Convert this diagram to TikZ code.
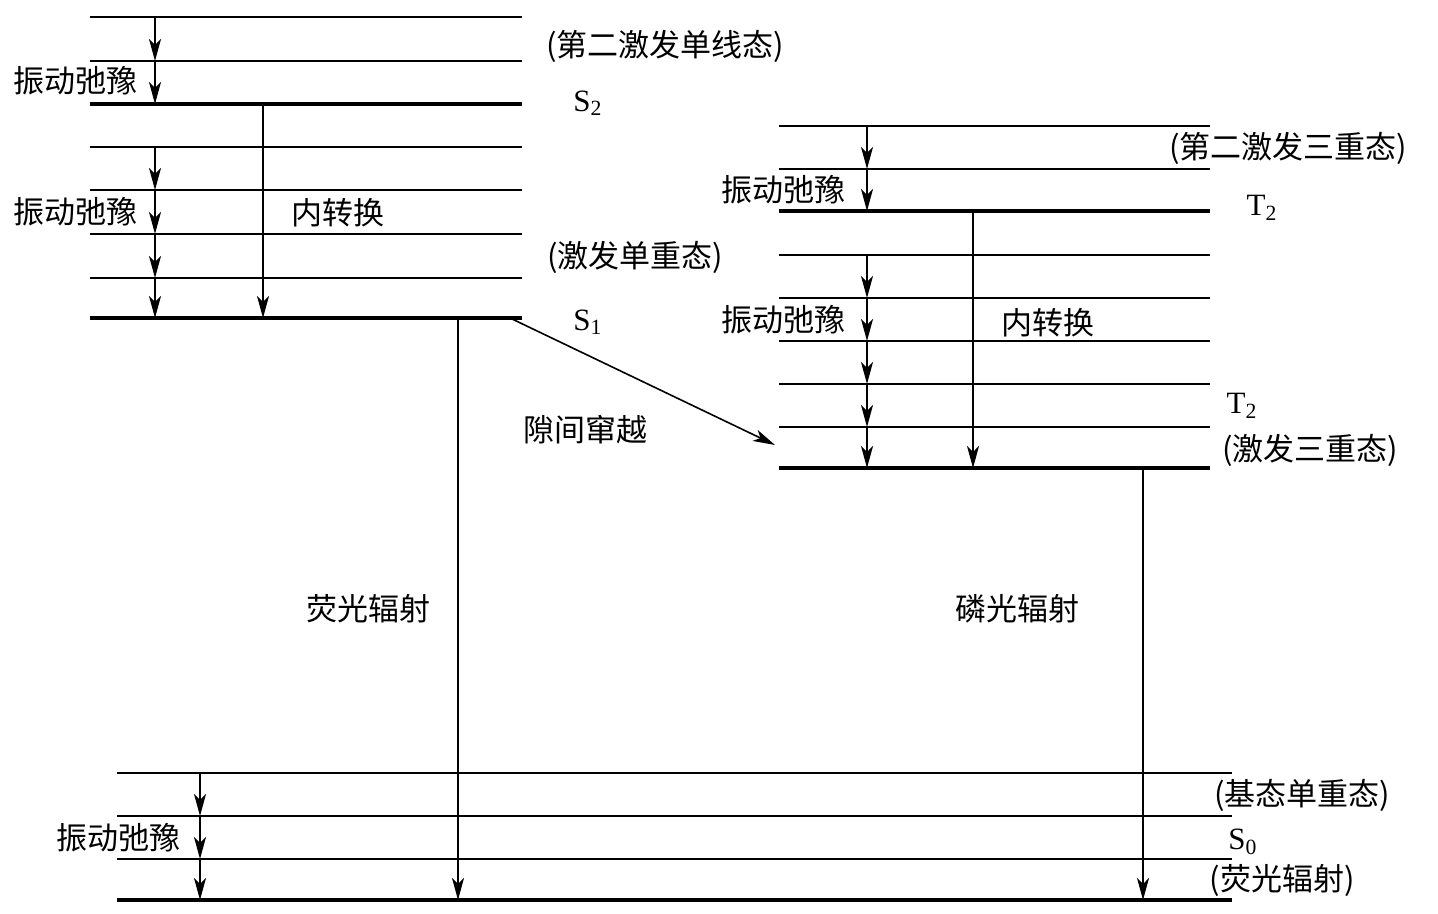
\documentclass[tikz,border=0pt]{standalone}
\usepackage{fontspec}
\setmainfont{Liberation Serif}
\newfontfamily\cjk{Noto Sans CJK SC}
\usetikzlibrary{arrows.meta}
\tikzset{
  lvl/.style={line width=1pt},
  base/.style={line width=2pt},
  vib/.style={line width=0.8pt,-{Stealth[length=11pt,width=6pt,inset=3pt]}},
  lab/.style={font=\cjk\fontsize{15.5}{18}\selectfont,inner sep=0pt},
  sym/.style={font=\fontsize{15.5}{18}\selectfont,inner sep=0pt}
}
\begin{document}
\begin{tikzpicture}[yscale=-1,x=0.5pt,y=0.5pt]
\useasboundingbox (0,0) rectangle (1438,914);
% singlet levels
\foreach \n/\y in {sa/17,sb/61,sd/147,se/190,sf/234,sg/278}
  \draw[lvl] (90,\y) coordinate (\n) -- (522,\y);
\draw[base] (90,104) coordinate (S2) -- (522,104);
\draw[base] (90,318) coordinate (S1) -- (522,318);
% triplet levels
\foreach \n/\y in {ta/126,tb/169,td/255,te/298,tf/341,tg/384,th/427}
  \draw[lvl] (779,\y) coordinate (\n) -- (1210,\y);
\draw[base] (779,211) coordinate (T2) -- (1210,211);
\draw[base] (779,468) coordinate (T1) -- (1210,468);
% ground levels
\foreach \n/\y in {ga/773,gb/816,gc/859}
  \draw[lvl] (117,\y) coordinate (\n) -- (1232,\y);
\draw[base] (117,900) coordinate (G0) -- (1232,900);
% columns
\coordinate (cs) at (155,0);
\coordinate (ic1) at (263,0);
\coordinate (fl) at (458,0);
\coordinate (ct) at (867,0);
\coordinate (ic2) at (973,0);
\coordinate (ph) at (1143,0);
\coordinate (cg) at (200,0);
\coordinate (iscA) at (510,318);
\coordinate (iscB) at (775,445);
% transitions
\foreach \a/\b in {sa/sb,sb/S2,sd/se,se/sf,sf/sg,sg/S1}
  \draw[vib] (cs |- \a) -- (cs |- \b);
\foreach \a/\b in {ta/tb,tb/T2,td/te,te/tf,tf/tg,tg/th,th/T1}
  \draw[vib] (ct |- \a) -- (ct |- \b);
\foreach \a/\b in {ga/gb,gb/gc,gc/G0}
  \draw[vib] (cg |- \a) -- (cg |- \b);
\draw[vib] (ic1 |- S2) -- (ic1 |- S1);
\draw[vib] (ic2 |- T2) -- (ic2 |- T1);
\draw[vib] (fl |- S1) -- (fl |- G0);
\draw[vib] (ph |- T1) -- (ph |- G0);
\draw[vib] (iscA) -- (iscB);
% labels
\node[lab] (nS2) at (665,46) {(第二激发单线态)};
\node[sym] (sS2) at (588,103) {S\textsubscript{2}};
\node[lab] (vr1) at (75,81) {振动弛豫};
\node[lab] (vr2) at (75,212) {振动弛豫};
\node[lab] (ic1l) at (338,213) {内转换};
\node[lab] (nS1) at (635,257) {(激发单重态)};
\node[sym] (sS1) at (588,322) {S\textsubscript{1}};
\node[lab] (iscl) at (585,430) {隙间窜越};
\node[lab] (fll) at (368,609) {荧光辐射};
\node[lab] (nT2) at (1288,148) {(第二激发三重态)};
\node[sym] (sT2) at (1262,208) {T\textsubscript{2}};
\node[lab] (vr3) at (783,190) {振动弛豫};
\node[lab] (vr4) at (783,320) {振动弛豫};
\node[lab] (ic2l) at (1048,323) {内转换};
\node[sym] (sT1) at (1242,406) {T\textsubscript{2}};
\node[lab] (nT1) at (1310,450) {(激发三重态)};
\node[lab] (phl) at (1017,609) {磷光辐射};
\node[lab] (nG) at (1302,795) {(基态单重态)};
\node[lab] (vr5) at (118,838) {振动弛豫};
\node[sym] (sS0) at (1243,842) {S\textsubscript{0}};
\node[lab] (nG2) at (1282,880) {(荧光辐射)};
\end{tikzpicture}
\end{document}
